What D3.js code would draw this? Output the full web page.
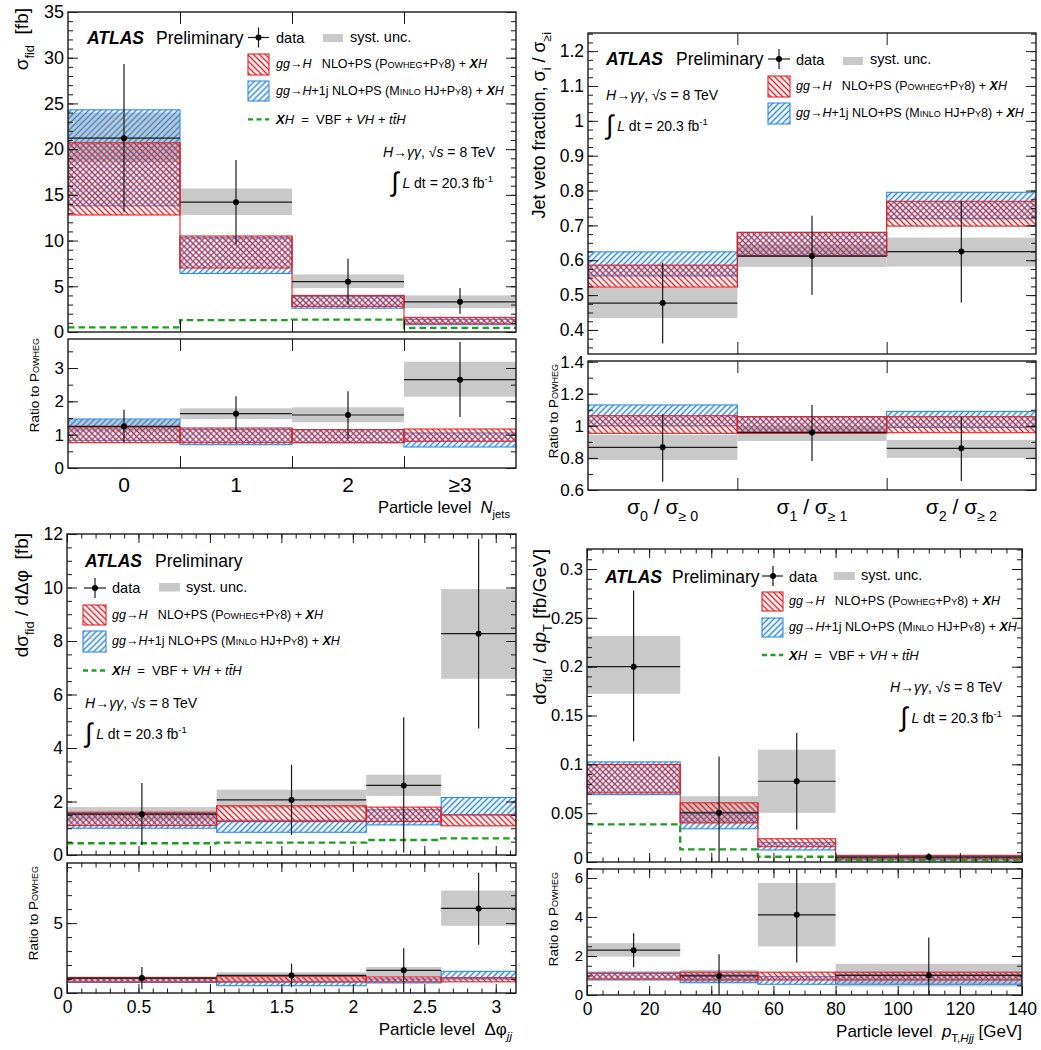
<!DOCTYPE html>
<html><head><meta charset="utf-8">
<script src="https://cdn.jsdelivr.net/npm/d3@7"></script>
<style>
body{margin:0;background:#fff}
svg{display:block}
text{font-family:'Liberation Sans',Arial,Helvetica,sans-serif;white-space:pre}
</style>
</head><body>
<script>
// ===================== DATA =====================
// Panel A: N_jets
const njCats = ["0","1","2","≥3"];
const njEdges = [-0.5,0.5,1.5,2.5,3.5];
const njCenters = [0,1,2,3];
const njData = [21.2,14.2,5.5,3.3];
const njErrLo = [13.1,9.6,3.0,2.0];
const njErrHi = [29.3,18.8,8.0,4.8];
const njSystLo = [18.6,12.8,4.8,2.6];
const njSystHi = [24.0,15.7,6.3,4.0];
const njPowLo = [12.8,7.0,2.8,0.9];
const njPowHi = [20.7,10.5,4.0,1.6];
const njMinLo = [13.8,6.4,2.6,0.8];
const njMinHi = [24.3,10.3,3.9,1.4];
const njXH = [0.5,1.3,1.35,0.45];
const njRData = [1.25,1.63,1.59,2.65];
const njRErrLo = [0.77,1.13,0.87,1.53];
const njRErrHi = [1.75,2.15,2.3,3.78];
const njRSystLo = [1.1,1.47,1.37,2.14];
const njRSystHi = [1.45,1.79,1.82,3.19];
const njRPowLo = [0.76,0.76,0.76,0.8];
const njRPowHi = [1.23,1.2,1.15,1.17];
const njRMinLo = [0.83,0.7,0.76,0.63];
const njRMinHi = [1.47,1.15,1.15,1.05];
const njYTicks = [0,5,10,15,20,25,30,35];
const njRTicks = [0,1,2,3];

// Panel B: jet veto fractions
const jvCats = [["σ","0","≥ 0"],["σ","1","≥ 1"],["σ","2","≥ 2"]];
const jvEdges = [0,1,2,3];
const jvCenters = [0.5,1.5,2.5];
const jvData = [0.477,0.612,0.625];
const jvErrLo = [0.361,0.501,0.479];
const jvErrHi = [0.593,0.728,0.769];
const jvSystLo = [0.434,0.581,0.582];
const jvSystHi = [0.521,0.645,0.665];
const jvPowLo = [0.523,0.612,0.698];
const jvPowHi = [0.586,0.680,0.769];
const jvMinLo = [0.555,0.614,0.719];
const jvMinHi = [0.624,0.680,0.795];
const jvRData = [0.866,0.959,0.86];
const jvRErrLo = [0.652,0.78,0.656];
const jvRErrHi = [1.072,1.13,1.057];
const jvRSystLo = [0.787,0.905,0.80];
const jvRSystHi = [0.943,1.0,0.912];
const jvRPowLo = [0.953,0.953,0.957];
const jvRPowHi = [1.063,1.057,1.057];
const jvRMinLo = [1.0,0.957,0.99];
const jvRMinHi = [1.13,1.057,1.09];
const jvYTicks = [0.4,0.5,0.6,0.7,0.8,0.9,1,1.1,1.2];
const jvRTicks = [0.6,0.8,1,1.2,1.4];

// Panel C: delta phi_jj
const dpEdges = [0,1.047,2.094,2.618,3.1416];
const dpCenters = [0.524,1.571,2.356,2.88];
const dpData = [1.525,2.06,2.6,8.275];
const dpErrLo = [0.375,0.75,0.09,4.725];
const dpErrHi = [2.69,3.375,5.15,11.8];
const dpSystLo = [1.3,1.75,2.21,6.59];
const dpSystHi = [1.79,2.44,3.0,9.94];
const dpPowLo = [1.1,1.25,1.25,1.09];
const dpPowHi = [1.6,1.84,1.79,1.5];
const dpMinLo = [1.0,0.85,1.125,1.5];
const dpMinHi = [1.55,1.3,1.69,2.15];
const dpXH = [0.44,0.46,0.56,0.62];
const dpRData = [1.07,1.26,1.62,6.05];
const dpRErrLo = [0.29,0.43,0.05,3.45];
const dpRErrHi = [1.86,2.1,3.2,8.6];
const dpRSystLo = [0.9,0.83,1.19,4.81];
const dpRSystHi = [1.19,1.48,1.86,7.33];
const dpRPowLo = [0.8,0.79,0.8,0.8];
const dpRPowHi = [1.1,1.19,1.15,1.1];
const dpRMinLo = [0.75,0.52,0.72,1.0];
const dpRMinHi = [1.05,0.79,1.0,1.55];
const dpYTicks = [0,2,4,6,8,10,12];
const dpRTicks = [0,5];
const dpXTicks = [0,0.5,1,1.5,2,2.5,3];

// Panel D: pT,Hjj
const ptEdges = [0,30,55,80,140];
const ptCenters = [15,42.5,67.5,110];
const ptData = [0.2,0.0504,0.0827,0.005];
const ptErrLo = [0.1236,0.0,0.0334,0.002];
const ptErrHi = [0.278,0.108,0.132,0.009];
const ptSystLo = [0.1723,0.04,0.0504,0.0035];
const ptSystHi = [0.2316,0.0674,0.115,0.0068];
const ptPowLo = [0.0708,0.04,0.0157,0.0034];
const ptPowHi = [0.0998,0.0606,0.0238,0.0068];
const ptMinLo = [0.069,0.034,0.0123,0.002];
const ptMinHi = [0.1025,0.051,0.0198,0.0055];
const ptXH = [0.0385,0.0129,0.0054,0.002];
const ptRData = [2.3,0.98,4.11,1.01];
const ptRErrLo = [1.42,0.0,1.66,0.0];
const ptRErrHi = [3.17,2.09,6.6,2.95];
const ptRSystLo = [1.97,0.63,2.49,0.43];
const ptRSystHi = [2.66,1.29,5.74,1.6];
const ptRPowLo = [0.82,0.77,0.77,0.77];
const ptRPowHi = [1.11,1.17,1.17,1.17];
const ptRMinLo = [0.77,0.63,0.55,0.55];
const ptRMinHi = [1.17,1.03,0.94,1.03];
const ptYTicks = [0,0.05,0.1,0.15,0.2,0.25,0.3];
const ptRTicks = [0,2,4,6];
const ptXTicks = [0,20,40,60,80,100,120,140];

// ===================== STYLE =====================
const GREY="#c9c9c9", RED="#e2232a", BLUE="#2f8be0", GREEN="#1d9e1d", INK="#1a1a1a";

const svg = d3.select("body").append("svg").attr("width",1041).attr("height",1050);
const defs = svg.append("defs");
function hatch(id, color, ang){
  const p = defs.append("pattern").attr("id",id).attr("patternUnits","userSpaceOnUse")
    .attr("width",4.2).attr("height",4.2).attr("patternTransform",`rotate(${ang})`);
  p.append("line").attr("x1",2.1).attr("y1",-1).attr("x2",2.1).attr("y2",6)
    .attr("stroke",color).attr("stroke-width",1.5);
}
hatch("hR",RED,-45);
hatch("hB",BLUE,45);

function rich(parent, x, y, segs, size, anchor){
  const t = parent.append("text").attr("x",x).attr("y",y).attr("font-size",size)
    .attr("text-anchor",anchor||"start").attr("fill","#000");
  let shift=0;
  segs.forEach(([s,st])=>{
    const k=(st||"").split(" ");
    const ts=t.append("tspan").text(s);
    let target=0, fs=size;
    if(k.includes("sub")){target=size*0.32;fs=size*0.68;}
    if(k.includes("sup")){target=-size*0.42;fs=size*0.68;}
    if(k.includes("big")){target=size*0.2;fs=size*1.9;}
    if(fs!==size) ts.attr("font-size",fs);
    if(target!==shift) ts.attr("dy",target-shift);
    shift=target;
    if(k.includes("i")) ts.attr("font-style","italic");
    if(k.includes("b")) ts.attr("font-weight","bold");
    if(k.includes("sc")) ts.style("font-variant","small-caps");
  });
  return t;
}
function vrich(parent,x,y,segs,size){
  const g=parent.append("g").attr("transform",`translate(${x},${y}) rotate(-90)`);
  return rich(g,0,0,segs,size,"end");
}
function rng(a,b,s){ return d3.range(Math.round((b-a)/s)+1).map(k=>+(a+k*s).toFixed(6)); }

let clipN=0;
function pad(x, y, edges, centers, S, T){
  const g = svg.append("g");
  const id = "clip"+(clipN++);
  const [x0,x1]=x.range(), [yb,yt]=y.range();
  g.append("clipPath").attr("id",id).append("rect").attr("x",x0).attr("y",yt).attr("width",x1-x0).attr("height",yb-yt);
  const c = g.append("g").attr("clip-path",`url(#${id})`);
  const idx = d3.range(S.data.length);
  const rectBand=(lo,hi,fill,stroke)=>{
    c.append("g").selectAll("rect").data(idx).join("rect")
      .attr("x",i=>x(edges[i])).attr("width",i=>x(edges[i+1])-x(edges[i]))
      .attr("y",i=>y(hi[i])).attr("height",i=>y(lo[i])-y(hi[i]))
      .attr("fill",fill).attr("stroke",stroke).attr("stroke-width",stroke?1.1:0);
  };
  rectBand(S.systLo,S.systHi,GREY,null);
  rectBand(S.minLo,S.minHi,"url(#hB)",BLUE);
  rectBand(S.powLo,S.powHi,"url(#hR)",RED);
  c.append("g").selectAll("line").data(idx.slice(1)).join("line")
    .attr("x1",i=>x(edges[i])).attr("x2",i=>x(edges[i]))
    .attr("y1",i=>y(Math.min(S.powLo[i-1],S.powLo[i]))).attr("y2",i=>y(Math.max(S.powHi[i-1],S.powHi[i])))
    .attr("stroke",RED).attr("stroke-width",1.1);
  if(S.xh){
    const pts=[]; idx.forEach(i=>{pts.push([x(edges[i]),y(S.xh[i])]);pts.push([x(edges[i+1]),y(S.xh[i])]);});
    c.append("path").attr("d",d3.line()(pts)).attr("fill","none").attr("stroke",GREEN)
      .attr("stroke-width",2.3).attr("stroke-dasharray","6.5,4");
  }
  const dg=c.append("g").attr("stroke",INK).attr("stroke-width",1.2);
  dg.selectAll("line.h").data(idx).join("line").attr("class","h")
    .attr("x1",i=>x(edges[i])).attr("x2",i=>x(edges[i+1])).attr("y1",i=>y(S.data[i])).attr("y2",i=>y(S.data[i]));
  dg.selectAll("line.v").data(idx).join("line").attr("class","v")
    .attr("x1",i=>x(centers[i])).attr("x2",i=>x(centers[i])).attr("y1",i=>y(S.errLo[i])).attr("y2",i=>y(S.errHi[i]));
  c.append("g").selectAll("circle").data(idx).join("circle")
    .attr("cx",i=>x(centers[i])).attr("cy",i=>y(S.data[i])).attr("r",3).attr("fill","#000");
  g.append("rect").attr("x",x0).attr("y",yt).attr("width",x1-x0).attr("height",yb-yt)
    .attr("fill","none").attr("stroke",INK).attr("stroke-width",1.4);
  const clean=(s)=>{ s.select(".domain").remove(); s.attr("font-family",null).attr("font-size",null);
    s.selectAll("line").attr("stroke",INK); s.selectAll("text").attr("fill","#000"); };
  const ax=g.append("g");
  const lt=ax.append("g").attr("transform",`translate(${x0},0)`)
    .call(d3.axisLeft(y).tickValues(T.yMaj).tickSize(-T.yLen).tickPadding(4).tickFormat(d=>String(d))).call(clean);
  lt.selectAll("text").attr("font-size",T.ySize);
  if(T.lift) lt.selectAll("text").filter(d=>d===T.yMaj[0]).attr("dy","0.12em");
  ax.append("g").attr("transform",`translate(${x1},0)`)
    .call(d3.axisRight(y).tickValues(T.yMaj).tickSize(-T.yLen).tickFormat("")).call(clean);
  if(T.yMin){
    ax.append("g").attr("transform",`translate(${x0},0)`)
      .call(d3.axisLeft(y).tickValues(T.yMin).tickSize(-T.yLen*0.5).tickFormat("")).call(clean);
    ax.append("g").attr("transform",`translate(${x1},0)`)
      .call(d3.axisRight(y).tickValues(T.yMin).tickSize(-T.yLen*0.5).tickFormat("")).call(clean);
  }
  const bot=ax.append("g").attr("transform",`translate(0,${yb})`)
    .call(d3.axisBottom(x).tickValues(T.xMaj).tickSize(-T.xLen).tickPadding(8)
      .tickFormat(T.xLabels?(d=>String(d)):"")).call(clean);
  bot.selectAll("text").attr("font-size",T.xSize||17);
  ax.append("g").attr("transform",`translate(0,${yt})`)
    .call(d3.axisTop(x).tickValues(T.xMaj).tickSize(-T.xLen).tickFormat("")).call(clean);
  if(T.xMin){
    ax.append("g").attr("transform",`translate(0,${yb})`)
      .call(d3.axisBottom(x).tickValues(T.xMin).tickSize(-T.xLen*0.5).tickFormat("")).call(clean);
    ax.append("g").attr("transform",`translate(0,${yt})`)
      .call(d3.axisTop(x).tickValues(T.xMin).tickSize(-T.xLen*0.5).tickFormat("")).call(clean);
  }
  return g;
}

// ===================== TEXT SNIPPETS =====================
const tPow=[["gg","i"],["→",""],["H","i"],["   NLO+PS (",""],["Powheg+Py8","sc"],[") + ",""],["X","b i"],["H","i"]];
const tMin=[["gg","i"],["→",""],["H","i"],["+1j NLO+PS (",""],["Minlo","sc"],[" HJ+",""],["Py8","sc"],[") + ",""],["X","b i"],["H","i"]];
const tXH=[["X","b i"],["H","i"],["  =  VBF + ",""],["VH","i"],[" + ",""],["tt̄H","i"]];
const tHgg=[["H","i"],["→",""],["γγ","i"],[", √",""],["s","i"],[" = 8 TeV",""]];
const tLumi=[["∫","big"],[" ",""],["L","i"],[" dt = 20.3 fb",""],["-1","sup"]];
const tRatio=[["Ratio to ",""],["Powheg","sc"]];

function atlas(x,y,px){
  rich(svg,x,y,[["ATLAS","b i"]],17.5);
  rich(svg,px,y,[["Preliminary",""]],17.5);
}
function legData(lx0,lx1,cx,cy,tx,ty){
  svg.append("line").attr("x1",lx0).attr("x2",lx1).attr("y1",cy).attr("y2",cy).attr("stroke",INK).attr("stroke-width",1.2);
  svg.append("line").attr("x1",cx).attr("x2",cx).attr("y1",cy-10).attr("y2",cy+10).attr("stroke",INK).attr("stroke-width",1.2);
  svg.append("circle").attr("cx",cx).attr("cy",cy).attr("r",3).attr("fill","#000");
  rich(svg,tx,ty,[["data",""]],14.5);
}
function legSyst(x,y,w,h,tx,ty){
  svg.append("rect").attr("x",x).attr("y",y).attr("width",w).attr("height",h).attr("fill",GREY);
  rich(svg,tx,ty,[["syst. unc.",""]],14.5);
}
function legBox(x,y,w,h,fill,stroke,tx,ty,segs){
  svg.append("rect").attr("x",x).attr("y",y).attr("width",w).attr("height",h).attr("fill",fill).attr("stroke",stroke).attr("stroke-width",1.1);
  rich(svg,tx,ty,segs,12.5);
}
function legGreen(x0,x1,y,tx,ty){
  svg.append("line").attr("x1",x0).attr("x2",x1).attr("y1",y).attr("y2",y).attr("stroke",GREEN).attr("stroke-width",2.3).attr("stroke-dasharray","5,3.5");
  rich(svg,tx,ty,tXH,13);
}

// ===================== PANEL A =====================
{
  const x=d3.scaleLinear().domain([-0.5,3.5]).range([68,516]);
  const y=d3.scaleLinear().domain([0,35]).range([332,12]);
  const yr=d3.scaleLinear().domain([0,3.87]).range([468,339]);
  pad(x,y,njEdges,njCenters,{data:njData,errLo:njErrLo,errHi:njErrHi,systLo:njSystLo,systHi:njSystHi,powLo:njPowLo,powHi:njPowHi,minLo:njMinLo,minHi:njMinHi,xh:njXH},
    {yMaj:njYTicks,yMin:rng(0,35,1),yLen:10,ySize:18,xMaj:[0.5,1.5,2.5],xLen:12,xLabels:false});
  pad(x,yr,njEdges,njCenters,{data:njRData,errLo:njRErrLo,errHi:njRErrHi,systLo:njRSystLo,systHi:njRSystHi,powLo:njRPowLo,powHi:njRPowHi,minLo:njRMinLo,minHi:njRMinHi},
    {yMaj:njRTicks,yMin:rng(0,3.5,0.5),yLen:10,ySize:17,xMaj:[0.5,1.5,2.5],xLen:12,xLabels:false});
  njCats.forEach((c,i)=>rich(svg,x(njCenters[i]),492,[[c,""]],21,"middle"));
  rich(svg,510,513,[["Particle level  ",""],["N","i"],["jets","sub"]],16.5,"end");
  vrich(svg,28,8,[["σ",""],["fid","sub"],["  [fb]",""]],19);
  vrich(svg,39,338,tRatio,13.5);
  atlas(87,44,156);
  legData(248,269,258.5,37.5,276,43);
  legSyst(323,34,20,8,350,42);
  legBox(248,54,21,21,"url(#hR)",RED,276,68,tPow);
  legBox(248,81,21,20,"url(#hB)",BLUE,276,95,tMin);
  legGreen(248,269,119.3,276,124);
  rich(svg,495,157,tHgg,14,"end");
  rich(svg,493,188,tLumi,14,"end");
}

// ===================== PANEL B =====================
{
  const x=d3.scaleLinear().domain([0,3]).range([588,1036]);
  const y=d3.scaleLinear().domain([0.331,1.252]).range([354,33]);
  const yr=d3.scaleLinear().domain([0.6,1.404]).range([490,361]);
  pad(x,y,jvEdges,jvCenters,{data:jvData,errLo:jvErrLo,errHi:jvErrHi,systLo:jvSystLo,systHi:jvSystHi,powLo:jvPowLo,powHi:jvPowHi,minLo:jvMinLo,minHi:jvMinHi},
    {yMaj:jvYTicks,yMin:rng(0.35,1.25,0.025),yLen:10,ySize:17.5,xMaj:[1,2],xLen:12,xLabels:false});
  pad(x,yr,jvEdges,jvCenters,{data:jvRData,errLo:jvRErrLo,errHi:jvRErrHi,systLo:jvRSystLo,systHi:jvRSystHi,powLo:jvRPowLo,powHi:jvRPowHi,minLo:jvRMinLo,minHi:jvRMinHi},
    {yMaj:jvRTicks,yMin:rng(0.6,1.4,0.1),yLen:10,ySize:17,xMaj:[1,2],xLen:12,xLabels:false});
  jvCats.forEach((c,i)=>rich(svg,x(jvCenters[i]),514,[[c[0],""],[c[1],"sub"],[" / "+c[0],""],[c[2],"sub"]],21,"middle"));
  vrich(svg,545,32,[["Jet veto fraction, σ",""],["i","sub"],[" / σ",""],["≥i","sub"]],18);
  vrich(svg,558,364,tRatio,13.5);
  atlas(606,65,676);
  legData(768,790,779,59,796,65);
  legSyst(843,57,20,8,870,64);
  legBox(768,76,22,21,"url(#hR)",RED,796,90,tPow);
  legBox(768,103,22,21,"url(#hB)",BLUE,796,117,tMin);
  rich(svg,606,100,tHgg,14);
  rich(svg,606,131,tLumi,14);
}

// ===================== PANEL C =====================
{
  const x=d3.scaleLinear().domain([0,3.1416]).range([67,516]);
  const y=d3.scaleLinear().domain([0,12]).range([855,534]);
  const yr=d3.scaleLinear().domain([0,9.3]).range([993,863]);
  pad(x,y,dpEdges,dpCenters,{data:dpData,errLo:dpErrLo,errHi:dpErrHi,systLo:dpSystLo,systHi:dpSystHi,powLo:dpPowLo,powHi:dpPowHi,minLo:dpMinLo,minHi:dpMinHi,xh:dpXH},
    {yMaj:dpYTicks,yMin:rng(0,12,0.5),yLen:10,ySize:17.5,xMaj:dpXTicks,xMin:rng(0,3.1,0.1),xLen:9,xLabels:false});
  pad(x,yr,dpEdges,dpCenters,{data:dpRData,errLo:dpRErrLo,errHi:dpRErrHi,systLo:dpRSystLo,systHi:dpRSystHi,powLo:dpRPowLo,powHi:dpRPowHi,minLo:dpRMinLo,minHi:dpRMinHi},
    {yMaj:dpRTicks,yMin:rng(0,9,1),yLen:10,ySize:17,xMaj:dpXTicks,xMin:rng(0,3.1,0.1),xLen:9,xLabels:true,xSize:17.5});
  rich(svg,512,1035,[["Particle level  Δφ",""],["jj","sub i"]],17,"end");
  vrich(svg,28,533,[["dσ",""],["fid","sub"],[" / dΔφ  [fb]",""]],19);
  vrich(svg,38,866,tRatio,13.5);
  atlas(85,567,155);
  legData(84,106,95,588,112,593);
  legSyst(159,583,21,8.5,186,592);
  legBox(83,605,23,20,"url(#hR)",RED,112,619,tPow);
  legBox(83,631,23,21,"url(#hB)",BLUE,112,645,tMin);
  legGreen(83,106,670.5,112,675);
  rich(svg,85,708,tHgg,14);
  rich(svg,85,739,tLumi,14);
}

// ===================== PANEL D =====================
{
  const x=d3.scaleLinear().domain([0,140]).range([587,1022]);
  const y=d3.scaleLinear().domain([0,0.3205]).range([862,549]);
  const yr=d3.scaleLinear().domain([0,6.46]).range([995,869]);
  pad(x,y,ptEdges,ptCenters,{data:ptData,errLo:ptErrLo,errHi:ptErrHi,systLo:ptSystLo,systHi:ptSystHi,powLo:ptPowLo,powHi:ptPowHi,minLo:ptMinLo,minHi:ptMinHi,xh:ptXH},
    {yMaj:ptYTicks,yMin:rng(0,0.32,0.01),yLen:10,ySize:16.5,lift:true,xMaj:ptXTicks,xMin:rng(0,140,5),xLen:9,xLabels:false});
  pad(x,yr,ptEdges,ptCenters,{data:ptRData,errLo:ptRErrLo,errHi:ptRErrHi,systLo:ptRSystLo,systHi:ptRSystHi,powLo:ptRPowLo,powHi:ptRPowHi,minLo:ptRMinLo,minHi:ptRMinHi},
    {yMaj:ptRTicks,yMin:rng(0,6.5,0.5),yLen:10,ySize:15,xMaj:ptXTicks,xMin:rng(0,140,5),xLen:9,xLabels:true,xSize:17.5});
  rich(svg,1022,1037,[["Particle level  ",""],["p","i"],["T,","sub"],["Hjj","sub i"],[" [GeV]",""]],17,"end");
  vrich(svg,546,549,[["dσ",""],["fid","sub"],[" / d",""],["p","i"],["T","sub"],[" [fb/GeV]",""]],19);
  vrich(svg,558,872,tRatio,13.5);
  atlas(605,583,672);
  legData(762,783,773,576,789,582);
  legSyst(834,572,21,8,861,580);
  legBox(762,592,21,19,"url(#hR)",RED,789,605,tPow);
  legBox(762,618,21,19,"url(#hB)",BLUE,789,631,tMin);
  legGreen(762,783,655,789,660);
  rich(svg,1002,692,tHgg,14,"end");
  rich(svg,1002,723,tLumi,14,"end");
}
</script>
</body></html>
